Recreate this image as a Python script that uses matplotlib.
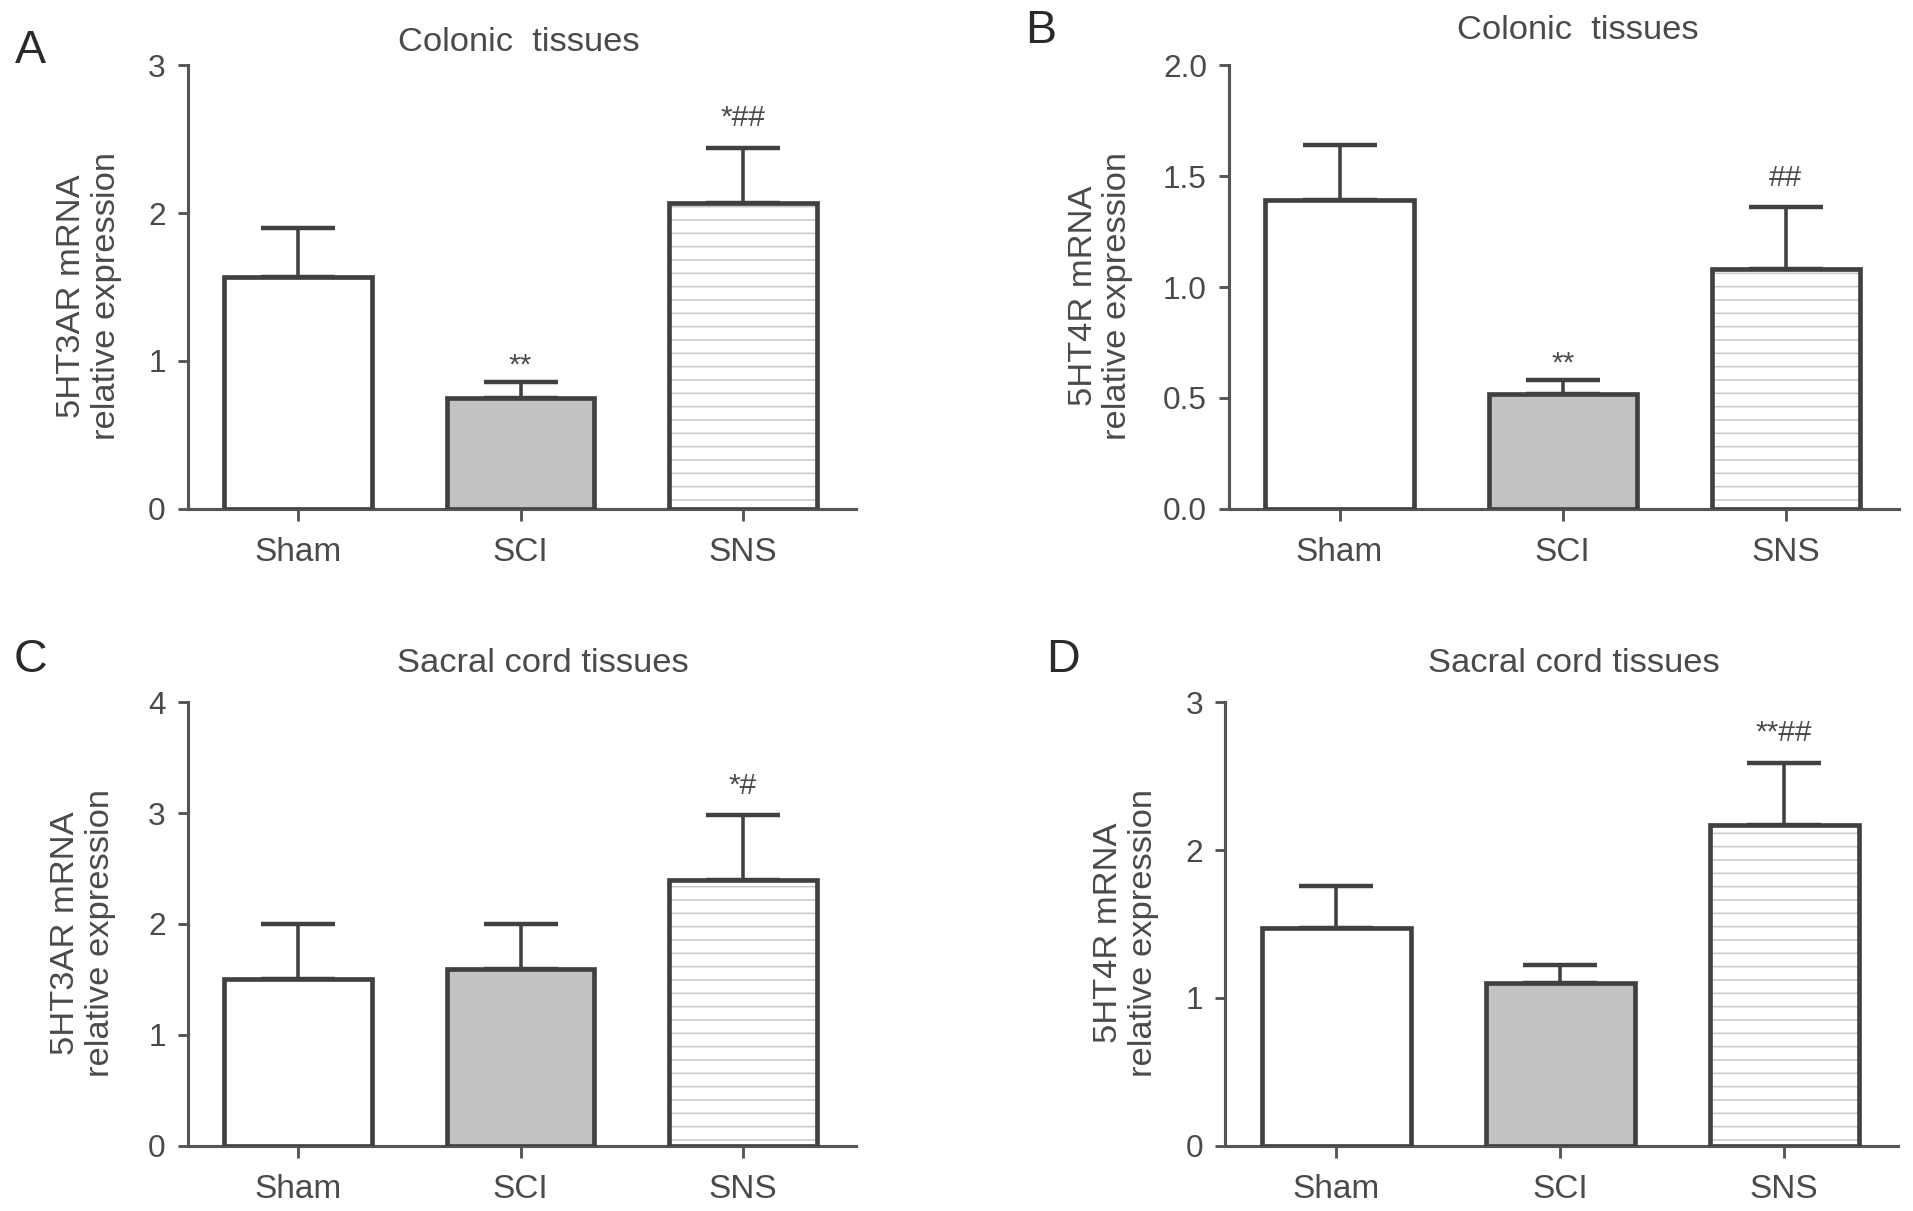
import matplotlib
matplotlib.use("Agg")
import matplotlib.pyplot as plt
import numpy as np

# ---------------- data ----------------
groups = ["Sham", "SCI", "SNS"]

a_mean = [1.57, 0.75, 2.07]
a_err = [0.33, 0.11, 0.37]
a_sig = ["", "**", "*##"]

b_mean = [1.39, 0.52, 1.08]
b_err = [0.25, 0.06, 0.28]
b_sig = ["", "**", "##"]

c_mean = [1.50, 1.59, 2.40]
c_err = [0.50, 0.41, 0.58]
c_sig = ["", "", "*#"]

d_mean = [1.47, 1.10, 2.17]
d_err = [0.29, 0.12, 0.42]
d_sig = ["", "", "**##"]

a_ticks = [0, 1, 2, 3]
b_ticks = [0.0, 0.5, 1.0, 1.5, 2.0]
c_ticks = [0, 1, 2, 3, 4]
d_ticks = [0, 1, 2, 3]

titles = ["Colonic  tissues", "Colonic  tissues", "Sacral cord tissues", "Sacral cord tissues"]
ylabels = ["5HT3AR mRNA\nrelative expression", "5HT4R mRNA\nrelative expression",
           "5HT3AR mRNA\nrelative expression", "5HT4R mRNA\nrelative expression"]
panel_letters = ["A", "B", "C", "D"]

# ---------------- style ----------------
DPI = 80
W, H = 1913, 1211
plt.rcParams['hatch.linewidth'] = 1.3
FONT = ['Liberation Sans', 'DejaVu Sans']
TXT = '#4a4a4a'
AX = '#555555'
EDGE = '#404040'
fills = ['white', '#c2c2c2', 'white']

fig = plt.figure(figsize=(W / DPI, H / DPI), dpi=DPI)
fig.patch.set_facecolor('white')

rects = [
    [0.0983, 0.5797, 0.3490, 0.3666],
    [0.6425, 0.5797, 0.3502, 0.3666],
    [0.0983, 0.0537, 0.3490, 0.3666],
    [0.6405, 0.0537, 0.3515, 0.3666],
]
xlim = (-0.495, 2.507)
title_x = [0.496, 0.521, 0.532, 0.519]
title_pad = [13, 23, 27, 27]
ylab_x = [-0.099, -0.143, -0.108, -0.0985]
letter_pos = [(0.016, 0.9576), (0.544, 0.9748), (0.016, 0.4553), (0.5556, 0.4553)]

panels = [
    (a_mean, a_err, a_sig, a_ticks, "{:.0f}"),
    (b_mean, b_err, b_sig, b_ticks, "{:.1f}"),
    (c_mean, c_err, c_sig, c_ticks, "{:.0f}"),
    (d_mean, d_err, d_sig, d_ticks, "{:.0f}"),
]

for i, (mean, err, sig, ticks, fmt) in enumerate(panels):
    ax = fig.add_axes(rects[i])
    x = np.arange(len(groups))
    # error bars (upper only)
    ax.errorbar(x, mean, yerr=[np.zeros(len(err)), err], fmt='none',
                ecolor=EDGE, elinewidth=3.2, capsize=33, capthick=4.0, zorder=2)
    # fills + hatch
    base = ax.bar(x, mean, width=0.665, color=fills, linewidth=0, zorder=3)
    base[2].set_hatch('-')
    base[2].set_edgecolor('#c4c4c4')
    # outlines
    ax.bar(x, mean, width=0.665, fill=False, edgecolor=EDGE, linewidth=4.2, zorder=4)

    ax.set_xlim(*xlim)
    ax.set_ylim(ticks[0], ticks[-1])
    ax.set_yticks(ticks)
    ax.set_yticklabels([fmt.format(t) for t in ticks], family=FONT, fontsize=28.5, color=TXT)
    ax.set_xticks(x)
    ax.set_xticklabels(groups, family=FONT, fontsize=30, color=TXT)
    for s in ['top', 'right']:
        ax.spines[s].set_visible(False)
    for s in ['left', 'bottom']:
        ax.spines[s].set_color(AX)
        ax.spines[s].set_linewidth(2.8)
    ax.tick_params(axis='y', direction='out', length=9, width=2.6, color=AX, pad=11)
    ax.tick_params(axis='x', direction='out', length=11, width=2.6, color=AX, pad=14)

    ax.set_title(titles[i], x=title_x[i], pad=title_pad[i], family=FONT, fontsize=31, color=TXT)
    ax.set_ylabel(ylabels[i], family=FONT, fontsize=31, color=TXT, linespacing=1.15)
    ax.yaxis.set_label_coords(ylab_x[i], 0.48)

    for xi, m, e, s in zip(x, mean, err, sig):
        if s:
            off = 14 if '#' in s else 2
            ax.annotate(s, (xi, m + e), xytext=(0, off), textcoords='offset points',
                        ha='center', va='bottom', family=FONT, fontsize=27, color=TXT)

    lx, ly = letter_pos[i]
    fig.text(lx, ly, panel_letters[i], ha='center', va='center', family=FONT,
             fontsize=42, color='#2a2a2a')

fig.savefig('out.png', dpi=DPI, facecolor='white')
